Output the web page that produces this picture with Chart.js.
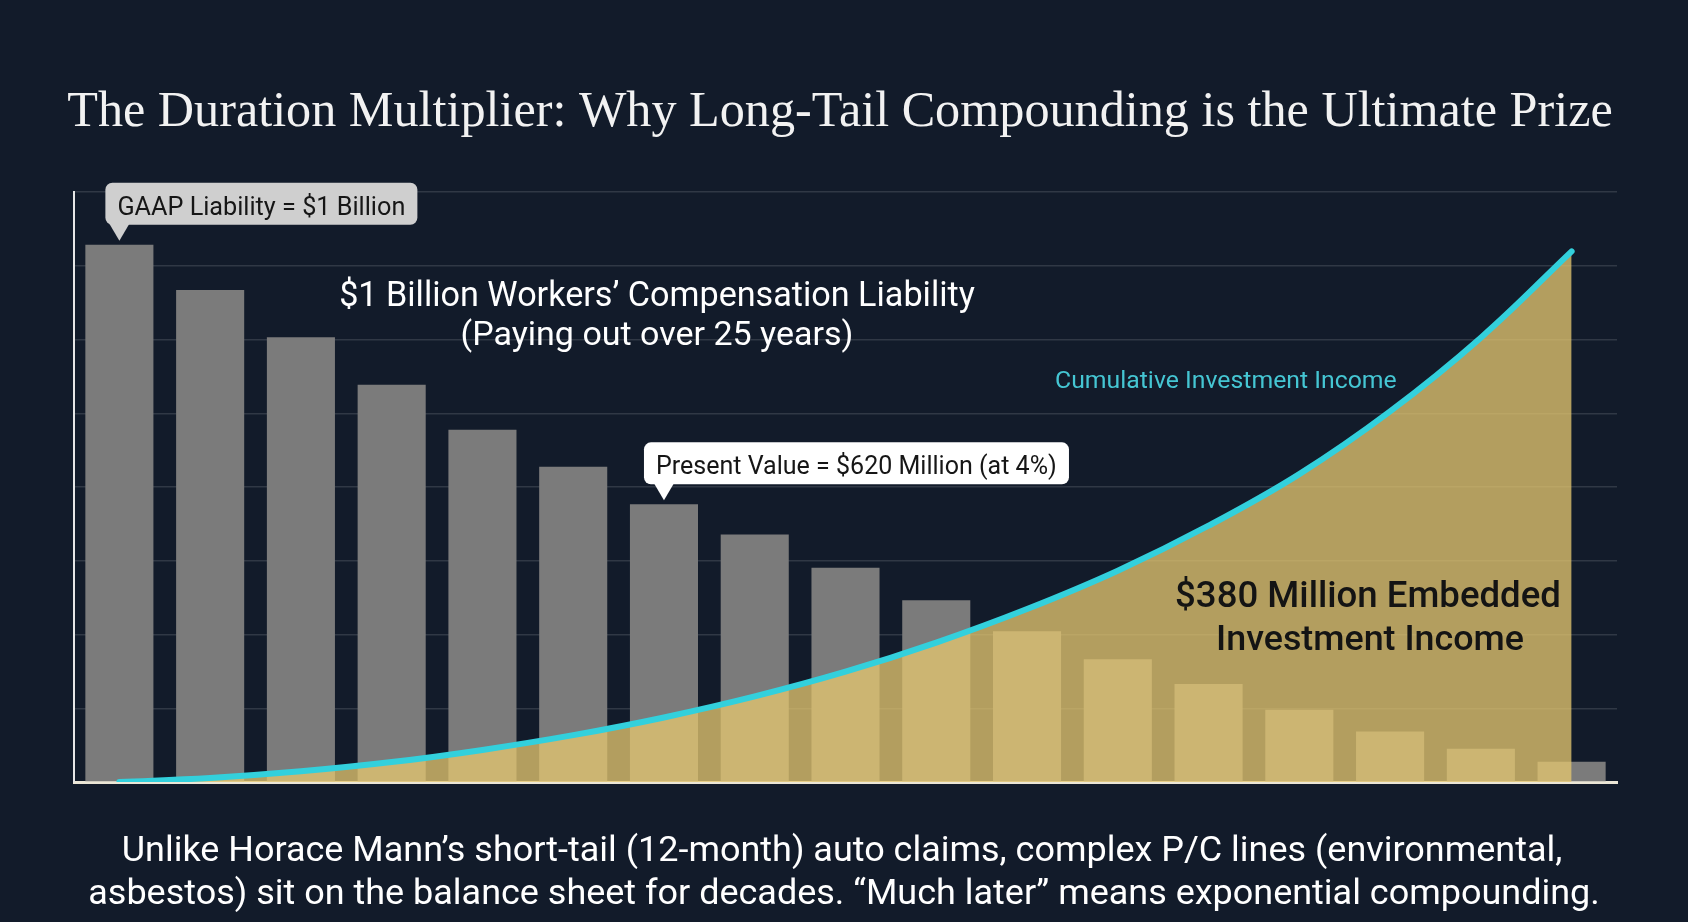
<!DOCTYPE html>
<html>
<head>
<meta charset="utf-8">
<title>The Duration Multiplier</title>
<script src="https://cdn.jsdelivr.net/npm/chart.js@4.4.1/dist/chart.umd.min.js"></script>
<style>
  html, body { margin: 0; padding: 0; background: #121b2a; }
  #chart { display: block; }
</style>
</head>
<body>
<canvas id="chart" width="1688" height="922"></canvas>
<script>
// ─── DATA ($ millions per year) ───────────────────────────
const years = ['Y1','Y2','Y3','Y4','Y5','Y6','Y7','Y8','Y9','Y10','Y11','Y12','Y13','Y14','Y15','Y16','Y17'];
const liabilityPayout  = [145.7, 133.4, 120.6, 107.7, 95.5, 85.5, 75.3, 67.1, 58.1, 49.3, 40.9, 33.3, 26.6, 19.6, 13.7, 9.0, 5.5];
const cumulativeIncome = [0, 1.1, 2.9, 5.4, 8.7, 12.7, 17.5, 23.2, 29.9, 37.8, 46.9, 57.3, 69.5, 83.5, 100.5, 120.5, 143.9];
const yMax  = 160;
const yStep = 20;

// ─── TEXT ─────────────────────────────────────────────────
const TITLE       = 'The Duration Multiplier: Why Long-Tail Compounding is the Ultimate Prize';
const LIAB_LINES  = ['$1 Billion Workers\u2019 Compensation Liability', '(Paying out over 25 years)'];
const CURVE_LABEL = 'Cumulative Investment Income';
const GOLD_LINES  = ['$380 Million Embedded', 'Investment Income'];
const GAAP_NOTE   = 'GAAP Liability = $1 Billion';
const PV_NOTE     = 'Present Value = $620 Million (at 4%)';
const PV_BAR      = 6;
const FOOTER      = [
  'Unlike Horace Mann\u2019s short-tail (12-month) auto claims, complex P/C lines (environmental,',
  'asbestos) sit on the balance sheet for decades. \u201cMuch later\u201d means exponential compounding.'
];

const SANS  = 'Roboto, "Noto Sans", sans-serif';
const SERIF = '"Liberation Serif", "DejaVu Serif", serif';

// font size that makes text span a given width
function fitSize(ctx, text, family, width, weight) {
  ctx.font = `${weight || 400} 100px ${family}`;
  return 100 * width / ctx.measureText(text).width;
}

function drawText(ctx, text, family, width, x, baseline, color, align, weight) {
  const size = fitSize(ctx, text, family, width, weight);
  ctx.font = `${weight || 400} ${size}px ${family}`;
  ctx.fillStyle = color;
  ctx.textAlign = align || 'center';
  ctx.textBaseline = 'alphabetic';
  ctx.fillText(text, x, baseline);
}

function roundRect(ctx, x, y, w, h, r) {
  ctx.beginPath();
  ctx.moveTo(x + r, y);
  ctx.arcTo(x + w, y, x + w, y + h, r);
  ctx.arcTo(x + w, y + h, x, y + h, r);
  ctx.arcTo(x, y + h, x, y, r);
  ctx.arcTo(x, y, x + w, y, r);
  ctx.closePath();
}

// callout box with a pointer down to the top of a bar
function callout(ctx, bar, text, textW, leftOff, fill) {
  const tipX = bar.x, tipY = bar.y - 4;
  const boxBottom = tipY - 16, boxH = 42, pad = 12;
  const left = tipX - leftOff;
  const w = textW + pad * 2;
  ctx.fillStyle = fill;
  roundRect(ctx, left, boxBottom - boxH, w, boxH, 7);
  ctx.fill();
  ctx.beginPath();
  ctx.moveTo(tipX - 10, boxBottom - 1);
  ctx.lineTo(tipX + 10, boxBottom - 1);
  ctx.lineTo(tipX, tipY);
  ctx.closePath();
  ctx.fill();
  drawText(ctx, text, SANS, textW, left + pad, boxBottom - 10, '#161616', 'left');
}

const textPlugin = {
  id: 'texts',
  afterDraw(chart) {
    const ctx = chart.ctx;
    const bars = chart.getDatasetMeta(1).data;
    ctx.save();
    drawText(ctx, TITLE, SERIF, 1546, 840, 126, '#f2f2f2');
    drawText(ctx, LIAB_LINES[0], SANS, 636, 657, 306, '#ffffff');
    drawText(ctx, LIAB_LINES[1], SANS, 393, 657, 345, '#ffffff');
    drawText(ctx, CURVE_LABEL, SANS, 342, 1055, 388, '#45c6d3', 'left');
    drawText(ctx, GOLD_LINES[0], SANS, 386, 1368, 607, '#141414', 'center', 500);
    drawText(ctx, GOLD_LINES[1], SANS, 308, 1370, 650, '#141414', 'center', 500);
    callout(ctx, bars[0], GAAP_NOTE, 288, 14, '#cfcfcf');
    callout(ctx, bars[PV_BAR], PV_NOTE, 401, 20, '#ffffff');
    drawText(ctx, FOOTER[0], SANS, 1441, 842, 861, '#ffffff');
    drawText(ctx, FOOTER[1], SANS, 1512, 844, 904, '#ffffff');
    ctx.restore();
  }
};

const bgPlugin = {
  id: 'bg',
  beforeDraw(chart) {
    const ctx = chart.ctx;
    ctx.save();
    ctx.fillStyle = '#121b2a';
    ctx.fillRect(0, 0, chart.width, chart.height);
    ctx.restore();
  }
};

new Chart(document.getElementById('chart'), {
  type: 'bar',
  data: {
    labels: years,
    datasets: [
      {
        type: 'line',
        label: 'Cumulative Investment Income',
        data: cumulativeIncome,
        borderColor: '#33d0dc',
        borderWidth: 6,
        borderCapStyle: 'round',
        backgroundColor: 'rgba(230,200,112,0.76)',
        fill: 'origin',
        pointRadius: 0,
        tension: 0.4,
        order: 0,
      },
      {
        type: 'bar',
        label: 'Liability payout',
        data: liabilityPayout,
        backgroundColor: '#7b7b7b',
        categoryPercentage: 1,
        barPercentage: 0.75,
        order: 1,
      },
    ],
  },
  options: {
    responsive: false,
    animation: false,
    devicePixelRatio: 1,
    layout: { padding: { left: 74, right: 71, top: 192, bottom: 140 } },
    plugins: { legend: { display: false }, tooltip: { enabled: false } },
    scales: {
      x: {
        z: 1,
        grid: { display: false, drawTicks: false },
        ticks: { display: false },
        border: { display: true, color: '#ebe6d6', width: 3 },
      },
      y: {
        min: 0,
        max: yMax,
        ticks: { display: false, stepSize: yStep },
        grid: { color: 'rgba(255,255,255,0.13)', lineWidth: 1.5, drawTicks: false },
        border: { display: true, color: '#e6e6e6', width: 2 },
      },
    },
  },
  plugins: [bgPlugin, textPlugin],
});
</script>
</body>
</html>
